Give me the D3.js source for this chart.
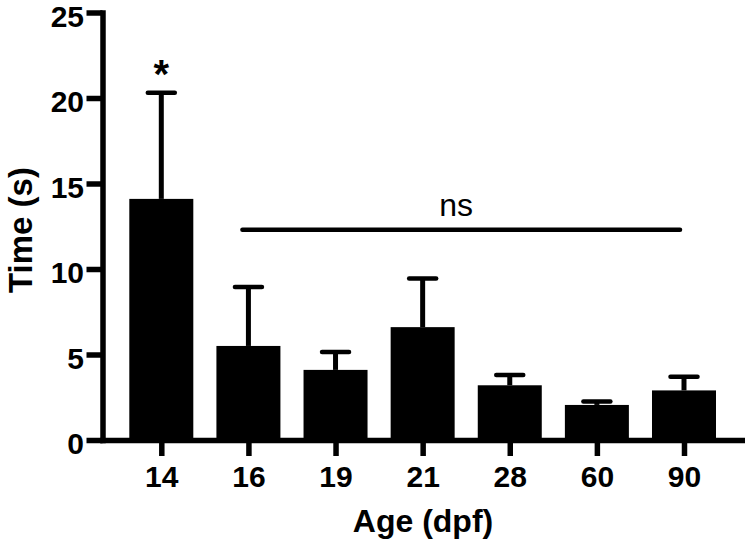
<!DOCTYPE html>
<html>
<head>
<meta charset="utf-8">
<script src="https://cdn.jsdelivr.net/npm/d3@7"></script>
<style>
  html, body { margin: 0; padding: 0; background: #fff; }
  svg { display: block; }
  text { font-family: "Liberation Sans", Arial, sans-serif; }
</style>
</head>
<body>
<script>
// ---- Data ----
const ages = ["14", "16", "19", "21", "28", "60", "90"];
const meanTime = [14.1, 5.5, 4.1, 6.6, 3.2, 2.05, 2.9];
const semTime = [6.2, 3.45, 1.05, 2.85, 0.6, 0.2, 0.8];
const yTicks = [0, 5, 10, 15, 20, 25];
const starLabel = "*";
const starAge = "14";
const nsLabel = "ns";
const nsFrom = "16";
const nsTo = "90";
const nsLevel = 12.3;
const xTitle = "Age (dpf)";
const yTitle = "Time (s)";

// ---- Layout ----
const W = 745, H = 547;
const x0 = 102.5, x1 = 742.8, yBase = 440, yTop = 12.5;

const svg = d3.select("body").append("svg").attr("width", W).attr("height", H);

const x = d3.scalePoint().domain(ages).range([x0, x1]).padding(0.675);
const y = d3.scaleLinear().domain([0, 25]).range([yBase, yTop]);
const barW = 64;

// Bars
svg.append("g").selectAll("rect").data(ages).join("rect")
  .attr("x", d => x(d) - barW / 2)
  .attr("width", barW)
  .attr("y", (d, i) => y(meanTime[i]))
  .attr("height", (d, i) => y(0) - y(meanTime[i]))
  .attr("fill", "#000");

// Error bars (upper only)
const eb = svg.append("g").attr("stroke", "#000");
eb.selectAll("line.w").data(ages).join("line").attr("class", "w")
  .attr("x1", d => x(d)).attr("x2", d => x(d))
  .attr("y1", (d, i) => y(meanTime[i]))
  .attr("y2", (d, i) => y(meanTime[i] + semTime[i]))
  .attr("stroke-width", 5);
eb.selectAll("line.c").data(ages).join("line").attr("class", "c")
  .attr("x1", d => x(d) - 13.5).attr("x2", d => x(d) + 13.5)
  .attr("y1", (d, i) => y(meanTime[i] + semTime[i]))
  .attr("y2", (d, i) => y(meanTime[i] + semTime[i]))
  .attr("stroke-width", 4.5).attr("stroke-linecap", "round");

// Axes
const axisStyle = g => {
  g.select(".domain").attr("stroke", "#000").attr("stroke-width", 5.5).attr("stroke-linecap", "square");
  g.selectAll(".tick line").attr("stroke", "#000").attr("stroke-width", 5.5);
  g.selectAll(".tick text").attr("fill", "#000")
    .style("font-family", '"Liberation Sans", Arial, sans-serif')
    .style("font-size", "30px").style("font-weight", "bold");
};

svg.append("g").attr("transform", `translate(0,${yBase})`)
  .call(d3.axisBottom(x).tickSize(16).tickSizeOuter(0).tickPadding(9.7))
  .call(axisStyle);

svg.append("g").attr("transform", `translate(${x0},0)`)
  .call(d3.axisLeft(y).tickValues(yTicks).tickSize(16).tickSizeOuter(0).tickPadding(2.5))
  .call(axisStyle)
  .call(g => g.selectAll(".tick text").attr("dy", "0.46em"));

// Significance line
svg.append("line")
  .attr("x1", x(nsFrom) - 6).attr("x2", x(nsTo) - 4)
  .attr("y1", y(nsLevel)).attr("y2", y(nsLevel))
  .attr("stroke", "#000").attr("stroke-width", 4.5).attr("stroke-linecap", "round");

svg.append("text")
  .attr("x", (x(nsFrom) + x(nsTo)) / 2 - 10)
  .attr("y", 216)
  .attr("text-anchor", "middle")
  .style("font-size", "32px")
  .text(nsLabel);

svg.append("text")
  .attr("x", x(starAge))
  .attr("y", 88)
  .attr("text-anchor", "middle")
  .style("font-size", "40px").style("font-weight", "bold")
  .text(starLabel);

// Axis titles
svg.append("text")
  .attr("x", 423).attr("y", 532)
  .attr("text-anchor", "middle")
  .style("font-size", "32px").style("font-weight", "bold")
  .text(xTitle);

svg.append("text")
  .attr("transform", "translate(32,230) rotate(-90)")
  .attr("text-anchor", "middle")
  .style("font-size", "33px").style("font-weight", "bold")
  .text(yTitle);
</script>
</body>
</html>
